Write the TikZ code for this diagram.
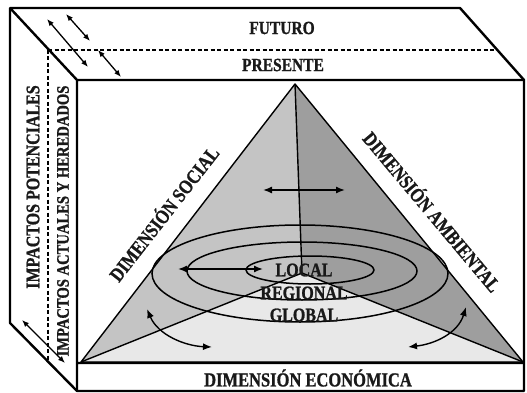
\documentclass[tikz,border=0pt]{standalone}
\usepackage{fontspec}
\usepackage{graphicx}
\setmainfont{Liberation Serif}
\newfontfamily\heavyfont[FakeBold=1.2]{Liberation Serif Bold}
\newcommand{\sxt}[1]{\scalebox{1}[1.2]{#1}}
\usetikzlibrary{arrows.meta}
\definecolor{faceL}{gray}{0.77}
\definecolor{faceR}{gray}{0.62}
\definecolor{faceB}{gray}{0.91}
\tikzset{
  boxline/.style={line width=2.4pt, line join=round},
  triline/.style={line width=1.4pt, line join=round},
  ringline/.style={line width=1.5pt},
  dashline/.style={line width=1.8pt, dash pattern=on 4pt off 2.5pt},
  bigarrow/.style={line width=1.4pt, {Latex[length=9pt,width=7pt]}-{Latex[length=9pt,width=7pt]}},
  smallarrow/.style={line width=1.3pt, {Latex[length=7pt,width=5.5pt]}-{Latex[length=7pt,width=5.5pt]}},
  lbl/.style={font=\heavyfont\fontsize{#1}{#1}\selectfont, inner sep=0pt, text=black!90},
}
\begin{document}
\begin{tikzpicture}[x=1pt,y=-1pt]
\useasboundingbox (0,0) rectangle (527,393);
% box corners
\coordinate (A) at (10,8);
\coordinate (B) at (460,8);
\coordinate (C) at (524,80);
\coordinate (D) at (77,80);
\coordinate (E) at (77,391);
\coordinate (F) at (524,391);
\coordinate (G) at (10,323);
\coordinate (H) at (48,50);
\coordinate (I) at (497,50);
\coordinate (J) at (48,361);
\coordinate (K) at (77,363);
\coordinate (L) at (524,363);
% triangle
\coordinate (T) at (295,84);
\coordinate (P) at (81,362);
\coordinate (Q) at (523,362);
\coordinate (M) at (302,273);
% faces
\fill[faceL] (T) -- (P) -- (M) -- cycle;
\fill[faceR] (T) -- (M) -- (Q) -- cycle;
\fill[faceB] (P) -- (M) -- (Q) -- cycle;
\draw[triline] (T) -- (P) -- (Q) -- cycle;
\draw[triline] (T) -- (M) (P) -- (M) -- (Q);
% rings
\draw[ringline] (300,273.5) ellipse [x radius=148, y radius=48.5];
\draw[ringline] (302,271) ellipse [x radius=115, y radius=29];
\draw[ringline] (310,270) ellipse [x radius=64, y radius=14];
% box
\draw[dashline] (H) -- (I) (H) -- (J);
\draw[boxline] (A) -- (B) -- (C) -- (F) -- (E) -- (G) -- cycle;
\draw[boxline] (A) -- (D) -- (C) (D) -- (E) (K) -- (L);
% labels
\node[lbl=15.5] (fut) at (282,28) {\sxt{FUTURO}};
\node[lbl=15.5] (pre) at (283,65) {\sxt{PRESENTE}};
\node[lbl=16, rotate=90] (ip) at (33,187) {\sxt{IMPACTOS POTENCIALES}};
\node[lbl=14.6, rotate=90] (ia) at (63,221) {\sxt{IMPACTOS ACTUALES Y HEREDADOS}};
\node[lbl=16.5, rotate=52] (ds) at (163,213) {\sxt{DIMENSIÓN SOCIAL}};
\node[lbl=16.5, rotate=-50] (da) at (433,211) {\sxt{DIMENSIÓN AMBIENTAL}};
\node[lbl=16] (loc) at (304,270) {\sxt{LOCAL}};
\node[lbl=16] (reg) at (304,293) {\sxt{REGIONAL}};
\node[lbl=16] (glo) at (304,315) {\sxt{GLOBAL}};
\node[lbl=16.5] (eco) at (308,378) {\sxt{DIMENSIÓN ECONÓMICA}};
% arrows
\coordinate (a1s) at (263,190); \coordinate (a1e) at (345,190);
\coordinate (a2s) at (178,269); \coordinate (a2e) at (263,269);
\coordinate (c1s) at (147,309); \coordinate (c1e) at (212,347);
\coordinate (c2s) at (466,307); \coordinate (c2e) at (408,347);
\coordinate (t1s) at (47,19); \coordinate (t1e) at (88,67);
\coordinate (t2s) at (66,14); \coordinate (t2e) at (90,41);
\coordinate (t3s) at (98,50); \coordinate (t3e) at (121,77);
\coordinate (l1s) at (22,320); \coordinate (l1e) at (65,363);
\draw[bigarrow] (a1s) -- (a1e);
\draw[bigarrow] (a2s) -- (a2e);
\draw[bigarrow] (c1s) .. controls (158,335) and (185,346) .. (c1e);
\draw[bigarrow] (c2s) .. controls (458,333) and (435,344) .. (c2e);
\draw[smallarrow] (t1s) -- (t1e);
\draw[smallarrow] (t2s) -- (t2e);
\draw[smallarrow] (t3s) -- (t3e);
\draw[smallarrow] (l1s) -- (l1e);
\end{tikzpicture}
\end{document}
